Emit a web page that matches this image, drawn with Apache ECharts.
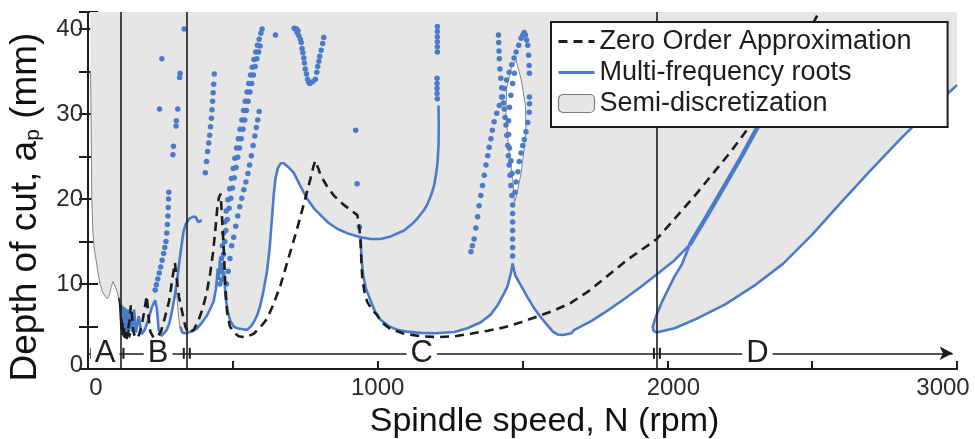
<!DOCTYPE html>
<html>
<head>
<meta charset="utf-8">
<script src="https://cdn.jsdelivr.net/npm/echarts@6/dist/echarts.min.js"></script>
<style>
  html, body { margin: 0; padding: 0; background: #fff; }
  #chart { width: 975px; height: 439px; }
</style>
</head>
<body>
<div id="chart"></div>
<script>
// Stability lobes: spindle speed N (rpm) vs depth of cut a_p (mm)

const xTickLabels = [0, 1000, 2000, 3000];
const yTickLabels = [0, 10, 20, 30, 40];

// speed ranges A-D along the bottom
const regionNames = ['A', 'B', 'C', 'D'];
const regionLabelX = [59, 242, 1152, 2311];
const regionBounds = [112, 341, 1964];
const regionArrowY = 1.85;
const regionArrowEnd = 2985;

// Zero order approximation (dashed)
const zeroOrder = [
  [114,6.0],[120,4.3],[128,3.7],[136,4.2],[143,5.6],[148,7.5],[152,6.2],[158,4.2],[166,3.6],[176,4.0],
  [186,5.2],[196,7.2],[203,8.6],[208,6.5],[215,4.4],[226,3.7],[240,3.8],[252,4.4],[265,6.0],[280,8.0],
  [292,10.8],[300,12.5],[305,11.0],[314,8.5],[324,6.9],[336,5.0],[347,4.2],[353,4.15],[365,4.6],[380,5.6],
  [395,7.0],[410,9.0],[422,11.3],[432,13.8],[440,16.5],[446,18.8],[452,20.2],[458,20.6],[462,20.4],[468,14.6],
  [474,9.8],[480,6.7],[490,5.0],[503,4.35],[520,3.85],[537,3.76],[555,3.9],[572,4.15],[595,4.9],[618,5.9],
  [640,7.6],[664,9.8],[690,12.8],[722,16.5],[745,19.4],[768,22.4],[778,23.8],[785,24.5],[795,23.6],[803,22.8],
  [825,21.5],[849,20.4],[880,19.4],[907,18.7],[930,18.1],[937,16.5],[941,15.0],[944,12.5],[947,10.6],[955,9.0],
  [964,7.9],[980,7.0],[999,6.3],[1010,5.6],[1040,4.8],[1091,4.15],[1150,3.85],[1207,3.76],[1265,3.85],[1322,4.15],
  [1380,4.5],[1437,4.9],[1495,5.5],[1553,6.2],[1610,6.9],[1668,7.8],[1730,9.2],[1795,11.0],[1860,12.8],[1910,14.0],
  [1964,15.3],[2031,17.9],[2100,20.6],[2160,23.1],[2220,25.6],[2285,28.6],[2350,31.8],[2420,35.6],[2470,38.6],[2521,41.8],
  [2530,42.5]
];
// densely sampled low-speed part of the zero order curve
const zeroOrderLowSpeed = [
  [106,8.4],[109,7.8],[112,6.0],[114,4.6],[116,5.8],[118,4.0],[121,5.4],[123,3.8],[126,4.8],[129,3.6],
  [132,4.4],[135,3.5],[139,4.6],[143,3.7],[147,4.2]
];

// Multi-frequency roots: continuous branches
const rootsB = [
  [114,7.6],[117,5.0],[120,7.4],[124,4.6],[128,7.2],[132,4.5],[137,7.0],[141,4.4],[147,6.8],[152,4.4],
  [159,7.0],[166,4.3],[175,6.2],[185,4.1],[196,4.6],[208,5.8],[220,7.2],[232,8.1],[238,7.0],[244,4.6],
  [253,3.9],[262,4.2],[272,4.6],[281,5.4],[290,6.8],[299,8.5],[308,10.5],[316,12.8],[324,14.8],[330,16.2],
  [338,17.1],[350,17.7],[362,17.9],[372,17.9],[380,17.3],[386,17.2],[393,17.5]
];
const rootsC = [
  [318,5.0],[326,4.3],[339,4.2],[355,4.4],[374,4.7],[392,5.4],[411,6.3],[425,7.3],[434,8.0],[442,9.5],
  [448,11.8],[452,10.5],[455,12.8],[458,11.2],[462,12.5],[466,10.8],[470,11.5],[474,8.7],[482,6.8],[491,5.7],
  [503,5.0],[514,4.8],[530,4.7],[549,4.6],[562,5.0],[572,5.5],[584,6.3],[595,7.5],[606,9.2],[618,11.5],
  [627,14.2],[635,17.7],[641,20.4],[647,22.4],[655,23.6],[665,24.2],[676,24.2],[690,23.8],[710,23.1],[732,21.6],
  [757,20.0],[780,18.9],[803,18.1],[830,17.2],[860,16.5],[900,15.9],[941,15.5],[976,15.3],[1010,15.3],[1045,15.6],
  [1091,16.3],[1120,17.1],[1137,17.7],[1160,18.7],[1172,19.4],[1185,20.5],[1195,21.6],[1202,23.0],[1207,24.4],[1210,26.3],
  [1211,28.5],[1210,31.0]
];
const rootsMain = [
  [941,15.5],[944,13.0],[950,11.0],[960,9.4],[976,8.0],[990,6.8],[1010,5.8],[1040,5.0],[1068,4.6],[1100,4.4],
  [1149,4.25],[1200,4.2],[1264,4.35],[1310,4.8],[1356,5.5],[1390,6.4],[1414,7.5],[1435,8.8],[1449,9.8],[1460,11.3],
  [1466,12.4],[1475,11.0],[1495,9.8],[1518,8.4],[1541,7.1],[1565,6.0],[1587,5.1],[1605,4.4],[1622,4.05],[1640,4.0],
  [1668,4.2],[1679,4.6],[1740,5.7],[1795,6.9],[1850,8.2],[1910,9.7],[1962,11.1],[2025,12.8],[2077,14.6]
];
const rootsLoopD = [
  [2077,14.6],[2050,12.3],[2025,10.9],[2000,9.2],[1979,7.7],[1962,6.3],[1950,5.0],[1952,4.5],[1962,4.3],[2025,4.8],
  [2100,5.9],[2200,7.6],[2300,9.8],[2400,12.4],[2500,15.8],[2600,19.6],[2700,23.3],[2800,26.9],[2900,30.3],[3000,33.4]
];
const rootsThickD = [
  [2077,14.6],[2135,17.9],[2200,21.7],[2256,25.0],[2314,28.6],[2380,32.8],[2440,36.8]
];

// Multi-frequency roots: isolated root points
const dotsB = [
  [232,9.3],[236,9.9],[241,10.6],[246,11.3],[251,12.0],[256,12.8],[261,13.6],[265,14.3],[269,15.0],[272,16.0],
  [274,17.0],[276,18.0],[277,19.0],[278,20.0],[279,20.8],
  [247,30.6],[255,36.5],[293,25.2],[295,26.2],[304,28.6],[305,29.2],[310,30.6],[316,34.3],[318,34.8],[332,40.0]
];
const dotsLobe = [
  [405,23.1],[409,24.4],[413,25.6],[417,26.6],[420,27.5],[423,28.5],[426,29.5],[428,30.5],[430,31.5],[432,32.5],
  [434,33.5],[436,34.7],
  [455,10.0],[458,11.5],[461,13.0],[464,14.5],[468,16.0],[472,17.3],[477,18.6],[483,19.9],[489,21.2],[495,22.4],
  [501,23.6],[507,24.8],[513,26.0],[519,27.1],[525,28.2],[531,29.3],[537,30.4],[543,31.5],[549,32.6],[555,33.6],
  [561,34.6],[567,35.5],[573,36.4],[579,37.3],[585,38.1],[591,38.8],[597,39.5],[601,40.0],
  [462,10.5],[465,12.0],[468,13.5],[472,15.0],[476,16.3],[481,17.6],[487,18.9],[493,20.1],[499,21.3],[505,22.5],
  [511,23.7],[517,24.9],[523,26.0],[529,27.1],[535,28.2],[541,29.3],[547,30.4],[553,31.5],[559,32.6],[565,33.6],
  [571,34.6],[577,35.6],[583,36.5],[589,37.3],[594,38.0],
  [478,10.0],[484,11.5],[490,13.0],[496,14.5],[503,15.5],[510,16.8],[517,18.0],[524,19.1],[531,20.1],[538,21.1],
  [545,22.0],[552,23.0],[558,24.0],[564,25.1],[570,26.3],[576,27.4],[581,28.4],[586,29.3],[591,30.3],
  [647,39.3]
];
const dotsV = [
  [712,40.1],[716,40.0],[720,40.0],[722,39.6],[725,39.8],[728,39.2],[733,38.8],[736,38.4],[739,37.7],[742,37.2],
  [745,36.6],[747,36.0],[750,35.3],[754,34.7],[758,34.1],[762,33.7],[766,33.6],[776,33.8],[785,34.1],[790,34.9],
  [793,35.6],[797,36.2],[800,36.8],[805,37.5],[810,38.3],[814,39.0],
  [924,28.1],[929,21.8],[937,16.7]
];
const dotsU = [
  [1206,40.3],[1206,39.7],[1206,39.1],[1206,38.5],[1206,37.9],[1206,37.3],
  [1205,34.2],[1205,33.6],[1205,33.0],[1205,32.4],[1206,31.8]
];
const dotsN = [
  [1322,13.8],[1327,14.5],[1333,15.3],[1339,16.6],[1345,17.9],[1350,19.2],[1356,20.4],[1362,21.6],[1368,22.8],[1374,24.0],
  [1380,25.1],[1385,26.1],[1391,27.1],[1396,28.1],[1402,29.1],[1411,30.1],[1420,31.0],[1428,32.0],[1437,33.0],[1445,34.0],
  [1454,34.9],[1463,35.8],[1471,36.6],[1478,37.3],[1487,38.1],[1495,38.9],[1501,39.3],[1506,39.6],
  [1510,39.3],[1514,38.7],[1518,38.1],[1521,36.9],[1523,35.7],[1524,34.8],[1524,32.0],[1524,31.2],[1523,30.2],[1518,29.0],
  [1512,27.9],[1506,27.0],[1501,26.3],[1495,25.4],[1489,24.4],[1484,23.2],[1478,22.0],[1474,20.8],
  [1417,39.3],[1418,38.4],[1419,37.4],[1420,36.5],[1422,35.3],[1425,34.2],[1428,33.1],[1431,32.0],[1434,31.3],[1437,30.6],
  [1440,29.6],[1443,28.7],[1446,27.5],[1449,26.3],[1451,25.1],[1454,24.0],[1457,22.8],[1460,21.6],[1463,20.4],[1466,19.3],
  [1466,18.3],[1466,17.3],[1466,16.3],[1466,15.3],[1466,14.3],[1466,13.3],
  [1472,34.8],[1466,33.6],[1460,32.2],[1455,30.8],[1452,29.2],[1452,27.6],[1455,26.0],[1460,24.5],[1464,23.0]
];

// Semi-discretization: lower edge of the unstable (shaded) region, and a stable island
const semiEnvelope = [
  [7,42],[9,35],[11,28],[13,20],[17,16],[22,14],[28,12.8],[35,11.3],[41,10.1],[50,9.1],
  [60,8.5],[68,8.3],[74,8.7],[80,9.6],[86,10.3],[90,10.0],[95,9.6],[99,9.3],[104,8.6],[108,7.9],
  [114,7.5],[117,5.0],[120,7.4],[124,4.6],[128,7.2],[132,4.5],[137,7.0],[141,4.4],[147,6.8],[152,4.4],
  [159,7.0],[166,4.3],[175,6.2],[185,4.1],[196,4.6],[208,5.8],[220,7.2],[232,8.1],[238,7.0],[244,4.6],
  [253,3.9],[262,4.2],[272,4.6],[281,5.4],[290,6.8],[299,8.5],[305,9.3],[310,7.2],[316,5.2],[322,4.4],
  [330,4.1],[339,4.2],[355,4.4],[374,4.7],[392,5.4],[411,6.3],[425,7.3],[434,8.0],[442,9.5],[448,11.8],
  [452,10.5],[455,12.8],[458,11.2],[462,12.5],[466,10.8],[470,11.5],[474,8.7],[482,6.8],[491,5.7],[503,5.0],
  [514,4.8],[530,4.7],[549,4.6],[562,5.0],[572,5.5],[584,6.3],[595,7.5],[606,9.2],[618,11.5],[627,14.2],
  [635,17.7],[641,20.4],[647,22.4],[655,23.6],[665,24.2],[676,24.2],[690,23.8],[710,23.1],[732,21.6],[757,20.0],
  [780,18.9],[803,18.1],[830,17.2],[860,16.5],[900,15.9],[941,15.5],[944,13.0],[950,11.0],[960,9.4],[976,8.0],
  [990,6.8],[1010,5.8],[1040,5.0],[1068,4.6],[1100,4.4],[1149,4.25],[1200,4.2],[1264,4.35],[1310,4.8],[1356,5.5],
  [1390,6.4],[1414,7.5],[1435,8.8],[1449,9.8],[1460,11.3],[1466,12.4],[1475,11.0],[1495,9.8],[1518,8.4],[1541,7.1],
  [1565,6.0],[1587,5.1],[1605,4.4],[1622,4.05],[1640,4.0],[1668,4.2],[1679,4.6],[1740,5.7],[1795,6.9],[1850,8.2],
  [1910,9.7],[1962,11.1],[2025,12.8],[2077,14.6],[2050,12.3],[2025,10.9],[2000,9.2],[1979,7.7],[1962,6.3],[1950,5.0],
  [1952,4.5],[1962,4.3],[2025,4.8],[2100,5.9],[2200,7.6],[2300,9.8],[2400,12.4],[2500,15.8],[2600,19.6],[2700,23.3],
  [2800,26.9],[2900,30.3],[3000,33.4],[3000,42]
];
const semiIsland = [
  [1478,36.3],[1496,34.0],[1510,31.0],[1512,28.0],[1506,26.0],[1495,23.0],[1480,20.5],[1472,19.6],[1466,22.4],[1452,26.0],
  [1443,30.0],[1445,33.0],[1462,35.5]
];

const BLUE = '#4a7bc8';
const INK = '#1c1c1c';
const SHADE = '#e6e6e6';
const FONT = '"Liberation Sans", Arial, sans-serif';
const HIDDEN_SYMBOL = { color: 'rgba(0,0,0,0)', borderWidth: 0 };

const chart = echarts.init(document.getElementById('chart'), null, { renderer: 'canvas' });

const blueLine = (data, width) => ({
  type: 'line', name: 'Multi-frequency roots', data: data, showSymbol: false, symbol: 'none',
  lineStyle: { color: BLUE, width: width || 2.6 }, itemStyle: { color: BLUE }, z: 3, silent: true
});
const dotSeries = (data) => ({
  type: 'scatter', name: 'Multi-frequency roots', data: data, symbolSize: 5.5,
  itemStyle: { color: BLUE, opacity: 1 }, z: 3, silent: true
});

chart.setOption({
  animation: false,
  textStyle: { fontFamily: FONT },
  grid: { left: 88, right: 18, top: 12, bottom: 70, containLabel: false, outerBoundsMode: 'none' },
  legend: {
    orient: 'vertical', left: 551, top: 22, z: 20,
    backgroundColor: '#fff', borderColor: INK, borderWidth: 2, borderRadius: 0,
    padding: [6, 36, 10, 6], itemWidth: 36, itemHeight: 18, itemGap: 4,
    selectedMode: false,
    textStyle: { fontSize: 27, color: INK, fontFamily: FONT },
    data: [
      { name: 'Zero Order Approximation', itemStyle: HIDDEN_SYMBOL,
        lineStyle: { color: INK, width: 3, type: [9, 6] } },
      { name: 'Multi-frequency roots', itemStyle: HIDDEN_SYMBOL,
        lineStyle: { color: BLUE, width: 3 } },
      { name: 'Semi-discretization', icon: 'roundRect',
        itemStyle: { color: SHADE, borderColor: '#7a7a7a', borderWidth: 1.2 } }
    ]
  },
  xAxis: [{
    type: 'value', min: 0, max: 3000, interval: 500,
    axisLine: { lineStyle: { color: INK, width: 2 } },
    axisTick: { inside: true, length: 8, lineStyle: { color: INK, width: 2 } },
    splitLine: { show: false },
    axisLabel: {
      fontSize: 24, color: '#2a2a2a', margin: 7,
      formatter: function (v) {
        if (!xTickLabels.includes(v)) return '';
        if (v === 0) return '{l|' + v + '}';
        if (v === 3000) return '{r|' + v + '}';
        if (v === 2000) return '{m|' + v + '}';
        return String(v);
      },
      rich: {
        l: { fontSize: 24, color: '#2a2a2a', padding: [0, 0, 0, 16] },
        m: { fontSize: 24, color: '#2a2a2a', padding: [0, 0, 0, 12] },
        r: { fontSize: 24, color: '#2a2a2a', padding: [0, 28, 0, 0] }
      }
    },
    name: 'Spindle speed, N (rpm)', nameLocation: 'middle', nameGap: 34,
    nameTextStyle: { fontSize: 34, color: '#111', padding: [0, 0, 0, 44] }
  }, {
    type: 'value', position: 'top', min: 0, max: 3000,
    axisLine: { lineStyle: { color: INK, width: 2 } },
    axisTick: { show: false }, axisLabel: { show: false }, splitLine: { show: false }
  }],
  yAxis: [{
    type: 'value', min: 0, max: 42, interval: 5,
    axisLine: { lineStyle: { color: INK, width: 2 } },
    axisTick: { inside: true, length: 10, lineStyle: { color: INK, width: 2 } },
    splitLine: { show: false },
    axisLabel: {
      fontSize: 24, color: '#2a2a2a', margin: 5,
      formatter: function (v) {
        if (!yTickLabels.includes(v)) return '';
        return v === 0 ? '{z|0}' : String(v);
      },
      rich: { z: { fontSize: 24, color: '#2a2a2a', padding: [0, 0, 8, 0] } }
    },
    name: 'Depth of cut, a{sub|p} (mm)', nameLocation: 'middle', nameGap: 44, nameRotate: 90,
    nameTextStyle: {
      fontSize: 37, color: '#111', padding: [0, 33, 0, 0],
      rich: { sub: { fontSize: 21, color: '#111', verticalAlign: 'bottom', lineHeight: 30 } }
    }
  }, {
    type: 'value', position: 'right', min: 0, max: 42, interval: 5,
    axisLine: { lineStyle: { color: INK, width: 2 } },
    axisTick: { inside: true, length: 9, lineStyle: { color: INK, width: 2 } },
    axisLabel: { show: false }, splitLine: { show: false }
  }],
  series: [
    {
      type: 'custom', name: 'Semi-discretization', coordinateSystem: 'cartesian2d',
      data: [[0, 0]], clip: true, z: 1, silent: true,
      itemStyle: { color: SHADE, borderColor: '#7a7a7a', borderWidth: 1 },
      renderItem: function (params, api) {
        const env = semiEnvelope.map(function (p) { return api.coord(p); });
        const lens = semiIsland.map(function (p) { return api.coord(p); });
        return {
          type: 'group',
          children: [
            { type: 'polygon', shape: { points: env }, style: { fill: SHADE, stroke: null } },
            { type: 'polyline', shape: { points: env.slice(1, -1) }, style: { fill: null, stroke: '#858585', lineWidth: 1 } },
            { type: 'polygon', shape: { points: lens }, style: { fill: '#fff', stroke: '#858585', lineWidth: 1 } }
          ]
        };
      }
    },
    blueLine(rootsB),
    blueLine(rootsC),
    blueLine(rootsMain),
    blueLine(rootsLoopD),
    blueLine(rootsThickD, 4.4),
    dotSeries(dotsB),
    dotSeries(dotsLobe),
    dotSeries(dotsV),
    dotSeries(dotsU),
    dotSeries(dotsN),
    {
      type: 'line', name: 'Zero Order Approximation', data: zeroOrder, symbol: 'none', z: 4, silent: true,
      lineStyle: { color: INK, width: 2.6, type: [9, 6] }, itemStyle: { color: INK }
    },
    {
      type: 'line', name: 'Zero Order Approximation', data: zeroOrderLowSpeed, symbol: 'none', z: 4, silent: true,
      lineStyle: { color: INK, width: 1.6 }
    },
    {
      // range boundaries and the range arrow
      type: 'scatter', data: regionBounds.map(function (x) { return [x, regionArrowY]; }),
      symbol: 'rect', symbolSize: [2, 11], symbolOffset: [-3, 0], itemStyle: { color: INK, opacity: 1 }, z: 5, silent: true,
      markLine: {
        silent: true, symbol: 'none', label: { show: false },
        lineStyle: { color: INK, width: 1.6, type: 'solid' },
        data: regionBounds.map(function (x) { return { xAxis: x }; })
      }
    },
    {
      type: 'scatter', data: [[0, regionArrowY]].concat(regionBounds.map(function (x) { return [x, regionArrowY]; })),
      symbol: 'rect', symbolSize: [2, 11], symbolOffset: [3, 0], itemStyle: { color: INK, opacity: 1 }, z: 5, silent: true,
      markLine: {
        silent: true, symbol: ['none', 'arrow'], symbolSize: [10, 13], label: { show: false },
        lineStyle: { color: INK, width: 1.6, type: 'solid' },
        data: [[{ coord: [0, regionArrowY] }, { coord: [regionArrowEnd, regionArrowY] }]]
      }
    },
    {
      type: 'scatter', z: 6, silent: true, symbolSize: 1, itemStyle: { color: 'rgba(0,0,0,0)', opacity: 1 },
      data: regionNames.map(function (n, i) { return { name: n, value: [regionLabelX[i], regionArrowY] }; }),
      label: {
        show: true, position: 'inside', formatter: '{b}', fontSize: 31, color: '#1e1e1e', opacity: 1,
        backgroundColor: '#fff', padding: [0, 4], lineHeight: 26
      }
    }
  ]
});
</script>
</body>
</html>
